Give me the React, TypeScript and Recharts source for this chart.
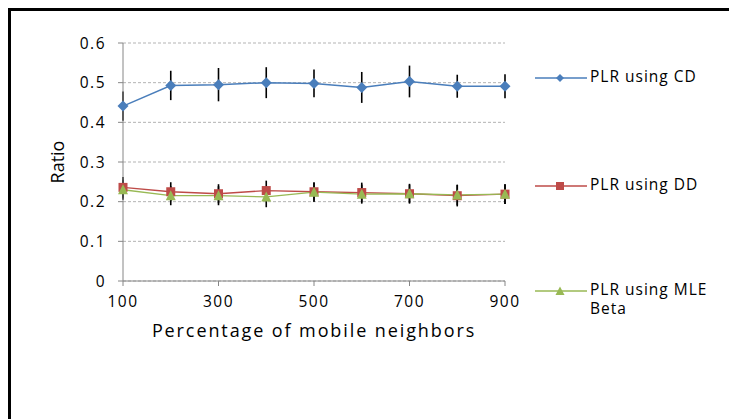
import React from 'react';
import { LineChart, Line, XAxis, YAxis, CartesianGrid, ErrorBar, Label } from 'recharts';

// Percentage of mobile neighbors (x axis)
const neighbors = [100, 200, 300, 400, 500, 600, 700, 800, 900];
const xTicks = [100, 300, 500, 700, 900];
const yTicks = [0, 0.1, 0.2, 0.3, 0.4, 0.5, 0.6];

// PLR using CD
const cdRatio = [0.441, 0.493, 0.495, 0.5, 0.498, 0.488, 0.503, 0.491, 0.491];
const cdError = [0.037, 0.037, 0.042, 0.039, 0.035, 0.039, 0.04, 0.029, 0.03];

// PLR using DD
const ddRatio = [0.236, 0.225, 0.22, 0.228, 0.225, 0.223, 0.22, 0.215, 0.219];
const ddError = [0.026, 0.024, 0.024, 0.025, 0.023, 0.025, 0.025, 0.027, 0.025];

// PLR using MLE Beta
const mleRatio = [0.23, 0.215, 0.215, 0.212, 0.224, 0.219, 0.22, 0.217, 0.219];
const mleError = [0.025, 0.024, 0.024, 0.026, 0.025, 0.024, 0.023, 0.026, 0.025];

const seriesNames = ['PLR using CD', 'PLR using DD', 'PLR using MLE Beta'];

const data = neighbors.map((n, i) => ({
  n,
  cd: cdRatio[i],
  cdErr: cdError[i],
  dd: ddRatio[i],
  ddErr: ddError[i],
  mle: mleRatio[i],
  mleErr: mleError[i],
}));

const BLUE = '#4a7ebb';
const RED = '#be4b48';
const GREEN = '#98b954';
const FONT = '"Open Sans", sans-serif';

const Diamond = (props: any) => {
  const { cx, cy } = props;
  if (cx == null || cy == null) return null;
  const r = 5.5;
  return <polygon points={`${cx},${cy - r} ${cx + r},${cy} ${cx},${cy + r} ${cx - r},${cy}`} fill={BLUE} />;
};

const Square = (props: any) => {
  const { cx, cy } = props;
  if (cx == null || cy == null) return null;
  const s = 9;
  return <rect x={cx - s / 2} y={cy - s / 2} width={s} height={s} fill={RED} />;
};

const Triangle = (props: any) => {
  const { cx, cy } = props;
  if (cx == null || cy == null) return null;
  const w = 10;
  const h = 9;
  return <polygon points={`${cx},${cy - h / 2 - 1} ${cx + w / 2},${cy + h / 2} ${cx - w / 2},${cy + h / 2}`} fill={GREEN} />;
};

const legendItems = [
  { name: seriesNames[0], color: BLUE, top: 69, shape: 'diamond' },
  { name: seriesNames[1], color: RED, top: 177, shape: 'square' },
  { name: seriesNames[2], color: GREEN, top: 282, shape: 'triangle' },
];

const LegendIcon = ({ color, shape }: { color: string; shape: string }) => (
  <svg width={52} height={12} style={{ display: 'block' }}>
    <line x1={0} y1={6} x2={52} y2={6} stroke={color} strokeWidth={1.3} />
    {shape === 'diamond' && <polygon points="25,2 29,6 25,10 21,6" fill={color} />}
    {shape === 'square' && <rect x={21} y={2} width={8} height={8} fill={color} />}
    {shape === 'triangle' && <polygon points="25,1.5 29.5,10 20.5,10" fill={color} />}
  </svg>
);

const RatioLabel = (props: any) => {
  const vb = props.viewBox || {};
  const x = (vb.x || 0) + 49;
  const y = (vb.y || 0) + (vb.height || 0) / 2;
  return (
    <text
      x={x}
      y={y}
      transform={`rotate(-90 ${x} ${y})`}
      textAnchor="middle"
      dominantBaseline="central"
      fontFamily={FONT}
      fontSize={18}
      fill="#000"
    >
      Ratio
    </text>
  );
};

export default function App() {
  return (
    <div
      style={{
        position: 'relative',
        width: 729,
        height: 411,
        borderTop: '3px solid #000',
        borderLeft: '3px solid #000',
        boxSizing: 'border-box',
        fontFamily: FONT,
        background: '#fff',
      }}
    >
      <div style={{ position: 'absolute', left: -3, top: -3 }}>
        <LineChart
          width={729}
          height={411}
          data={data}
          margin={{ top: 35, right: 232, bottom: 82, left: 0 }}
        >
          <CartesianGrid vertical={false} stroke="#b3b3b3" strokeDasharray="3 2" />
          <XAxis
            dataKey="n"
            type="number"
            domain={[100, 900]}
            ticks={xTicks}
            height={56}
            stroke="#868686"
            tickSize={5}
            tickMargin={10}
            tick={{ fill: '#000', fontSize: 15.5, fontFamily: FONT, letterSpacing: 1.5 }}
          >
            <Label
              value="Percentage of mobile neighbors"
              position="insideBottom"
              offset={0}
              fill="#000"
              fontSize={18}
              fontFamily={FONT}
              style={{ letterSpacing: 1.9 }}
            />
          </XAxis>
          <YAxis
            type="number"
            domain={[0, 0.6]}
            ticks={yTicks}
            width={115}
            stroke="#868686"
            tickSize={5}
            tickMargin={12}
            tickFormatter={(v: number) => (v === 0 ? '0' : v.toFixed(1))}
            tick={{ fill: '#000', fontSize: 15.5, fontFamily: FONT, letterSpacing: 1.5 }}
          >
            <Label content={RatioLabel} />
          </YAxis>
          <Line
            dataKey="cd"
            name={seriesNames[0]}
            stroke={BLUE}
            strokeWidth={1.5}
            dot={<Diamond />}
            activeDot={false}
            isAnimationActive={false}
          >
            <ErrorBar dataKey="cdErr" direction="y" width={0} stroke="#000" strokeWidth={1.6} isAnimationActive={false} />
          </Line>
          <Line
            dataKey="dd"
            name={seriesNames[1]}
            stroke={RED}
            strokeWidth={1.3}
            dot={<Square />}
            activeDot={false}
            isAnimationActive={false}
          >
            <ErrorBar dataKey="ddErr" direction="y" width={0} stroke="#000" strokeWidth={1.6} isAnimationActive={false} />
          </Line>
          <Line
            dataKey="mle"
            name={seriesNames[2]}
            stroke={GREEN}
            strokeWidth={1.3}
            dot={<Triangle />}
            activeDot={false}
            isAnimationActive={false}
          >
            <ErrorBar dataKey="mleErr" direction="y" width={0} stroke="#000" strokeWidth={1.6} isAnimationActive={false} />
          </Line>
        </LineChart>
      </div>
      {legendItems.map((item) => (
        <div
          key={item.name}
          style={{
            position: 'absolute',
            left: 524,
            top: item.top - 6 - 2,
            display: 'flex',
            alignItems: 'flex-start',
          }}
        >
          <LegendIcon color={item.color} shape={item.shape} />
          <div
            style={{
              marginLeft: 3,
              marginTop: -5,
              width: 145,
              fontSize: 15.5,
              lineHeight: '19px',
              letterSpacing: 1,
              color: '#000',
            }}
          >
            {item.name}
          </div>
        </div>
      ))}
    </div>
  );
}
